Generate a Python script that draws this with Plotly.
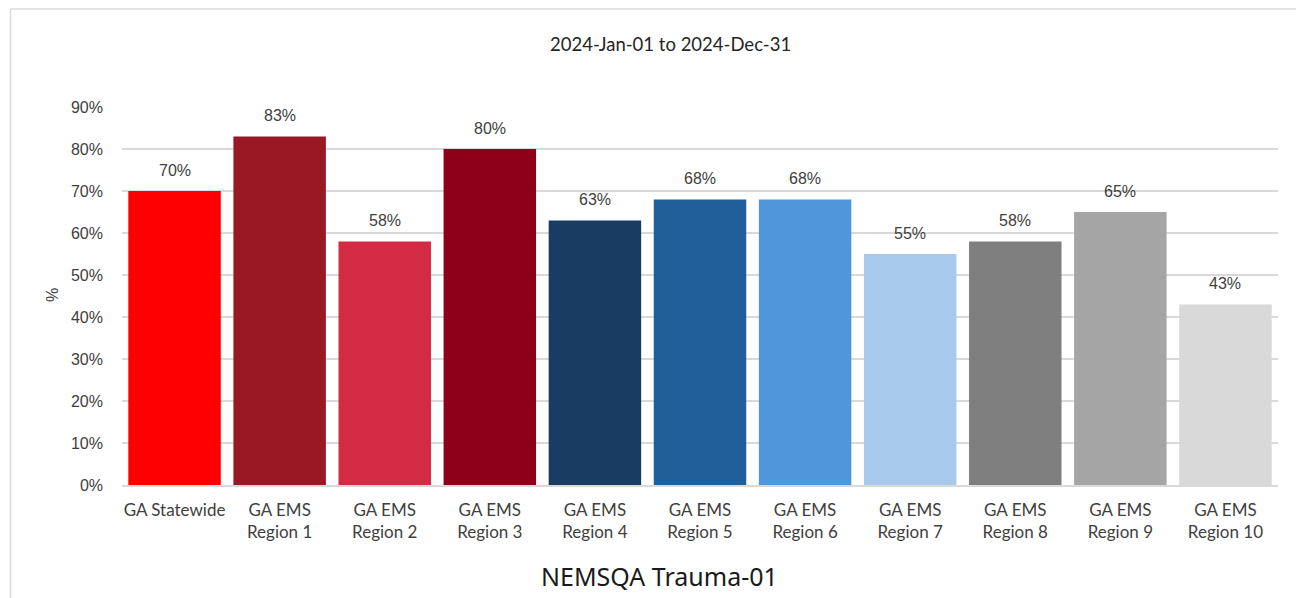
import plotly.graph_objects as go

categories = ["GA Statewide", "GA EMS<br>Region 1", "GA EMS<br>Region 2", "GA EMS<br>Region 3",
              "GA EMS<br>Region 4", "GA EMS<br>Region 5", "GA EMS<br>Region 6", "GA EMS<br>Region 7",
              "GA EMS<br>Region 8", "GA EMS<br>Region 9", "GA EMS<br>Region 10"]
values = [0.70, 0.83, 0.58, 0.80, 0.63, 0.68, 0.68, 0.55, 0.58, 0.65, 0.43]
colors = ["#FF0000", "#991824", "#D42B44", "#8E0019", "#183C62", "#215F9A", "#5096DA",
          "#A7CAEC", "#7F7F7F", "#A5A5A5", "#D9D9D9"]
y_ticks = [0, 0.1, 0.2, 0.3, 0.4, 0.5, 0.6, 0.7, 0.8, 0.9]
subtitle = "2024-Jan-01 to 2024-Dec-31"
bottom_title = "NEMSQA Trauma-01"

OFF = 8  # page body margin
W, H = 1304 - OFF, 598 - OFF
L, T = 122 - OFF, 107 - OFF
R = W - (1278 - OFF)
B = H - (485 - OFF)
pw, ph = W - L - R, H - T - B


def px(sx):
    return (sx - OFF - L) / pw


def py(sy):
    return (T + ph - (sy - OFF)) / ph


fig = go.Figure(go.Bar(
    x=categories, y=values, marker=dict(color=colors, line=dict(width=0)),
    width=0.88, hoverinfo="skip"))

for c, v in zip(categories, values):
    fig.add_annotation(x=c, y=v, text=f"{round(v*100)}%", showarrow=False, yshift=21,
                       font=dict(family="Liberation Sans, Arial", size=16, color="#404040"))

fig.add_annotation(xref="paper", yref="paper", x=px(670), y=py(44),
                   xanchor="center", yanchor="middle",
                   text=subtitle, showarrow=False,
                   font=dict(family="Lato", size=18.5, color="#262626"))
fig.add_annotation(xref="paper", yref="paper", x=px(659), y=py(576),
                   xanchor="center", yanchor="middle",
                   text=bottom_title, showarrow=False,
                   font=dict(family="Noto Sans", size=25, color="#1a1a1a"))
fig.add_annotation(xref="paper", yref="paper", x=px(52), y=py(295),
                   xanchor="center", yanchor="middle",
                   text="%", showarrow=False, textangle=-90,
                   font=dict(family="Liberation Sans, Arial", size=16, color="#404040"))

# outer border (left and top edges visible)
fig.add_shape(type="line", xref="paper", yref="paper",
              x0=px(10.5), x1=px(10.5), y0=py(620), y1=py(9),
              line=dict(color="#D9D9D9", width=1.5))
fig.add_shape(type="line", xref="paper", yref="paper",
              x0=px(10.5), x1=px(1320), y0=py(9), y1=py(9),
              line=dict(color="#D9D9D9", width=1.5))

fig.update_layout(
    width=W, height=H, margin=dict(l=L, r=R, t=T, b=B),
    paper_bgcolor="white", plot_bgcolor="white", showlegend=False, bargap=0.12,
    xaxis=dict(showgrid=False, showline=True, linecolor="#D9D9D9", linewidth=1.5,
               ticks="", tickfont=dict(family="Lato", size=17, color="#404040"),
               ticklabelstandoff=9, fixedrange=True),
    yaxis=dict(range=[0, 0.9], tickvals=y_ticks, tickformat=".0%", showgrid=True,
               gridcolor="#D9D9D9", gridwidth=1.5, zeroline=False, showline=False,
               tickfont=dict(family="Liberation Sans, Arial", size=16, color="#404040"),
               ticklabelstandoff=18, fixedrange=True),
)
fig.write_html("out.html")
